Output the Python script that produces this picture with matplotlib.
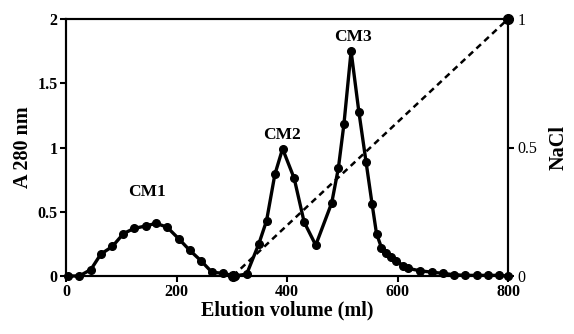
import matplotlib
matplotlib.use("Agg")
import matplotlib.pyplot as plt

volume = [3, 24, 45, 63, 84, 104, 123, 145, 163, 183, 204, 224, 244, 264, 285, 305,
          327, 349, 363, 378, 392, 413, 431, 452, 481, 493, 503, 516, 530, 543,
          554, 562, 571, 580, 589, 598, 610, 619, 641, 662, 683, 702, 722, 743,
          763, 783, 800]
a280 = [0.0, 0.0, 0.05, 0.17, 0.23, 0.33, 0.37, 0.39, 0.41, 0.38, 0.29, 0.20, 0.12,
        0.03, 0.02, 0.0, 0.015, 0.25, 0.43, 0.79, 0.99, 0.76, 0.42, 0.24, 0.57,
        0.84, 1.18, 1.75, 1.28, 0.89, 0.56, 0.33, 0.22, 0.18, 0.15, 0.12, 0.08,
        0.06, 0.04, 0.03, 0.02, 0.01, 0.005, 0.005, 0.005, 0.005, 0.0]
nacl_volume = [302, 800]
nacl = [0.0, 1.0]

peak_labels = ["CM1", "CM2", "CM3"]
peak_x = [146, 391, 519]
peak_y = [0.65, 1.10, 1.86]

x_ticks = [0, 200, 400, 600, 800]
y_ticks = [0, 0.5, 1, 1.5, 2]
y_ticklabels = ["0", "0.5", "1", "1.5", "2"]
r_ticks = [0, 0.5, 1]
r_ticklabels = ["0", "0.5", "1"]

plt.rcParams['font.family'] = ['Liberation Serif', 'DejaVu Serif']

fig = plt.figure(figsize=(5.74, 3.34), dpi=100)
ax = fig.add_axes([66/574, 1-276/334, (508-66)/574, (276-19)/334])

ax.plot(volume, a280, color='black', lw=2.4, marker='o', ms=5.5, zorder=3, clip_on=False)
ax.set_xlim(0, 800)
ax.set_ylim(0, 2)
ax.set_xticks(x_ticks)
ax.set_xticklabels([str(t) for t in x_ticks], fontweight='bold', fontsize=11.5)
ax.set_yticks(y_ticks)
ax.set_yticklabels(y_ticklabels, fontweight='bold', fontsize=11.5)
ax.tick_params(direction='out', length=4, width=1.5, pad=2)
for s in ax.spines.values():
    s.set_linewidth(1.5)
ax.set_xlabel("Elution volume (ml)", fontweight='bold', fontsize=14.5, labelpad=0)
ax.set_ylabel("A 280 nm", fontweight='bold', fontsize=14.5, labelpad=3)

for lab, px, py in zip(peak_labels, peak_x, peak_y):
    ax.text(px, py, lab, fontweight='bold', fontsize=12.5, ha='center', va='center')

ax2 = ax.twinx()
ax2.plot(nacl_volume, nacl, color='black', lw=1.8, ls=(0, (2.5, 1.8)), marker='o', ms=7,
         zorder=3, clip_on=False)
ax2.set_ylim(0, 1)
ax2.set_yticks(r_ticks)
ax2.set_yticklabels(r_ticklabels, fontsize=11.5)
ax2.tick_params(direction='out', length=4, width=1.5, pad=3)
for s in ax2.spines.values():
    s.set_linewidth(1.5)
ax2.set_ylabel("NaCl", fontweight='bold', fontsize=14.5, labelpad=8)

fig.savefig("out.png", dpi=100)
